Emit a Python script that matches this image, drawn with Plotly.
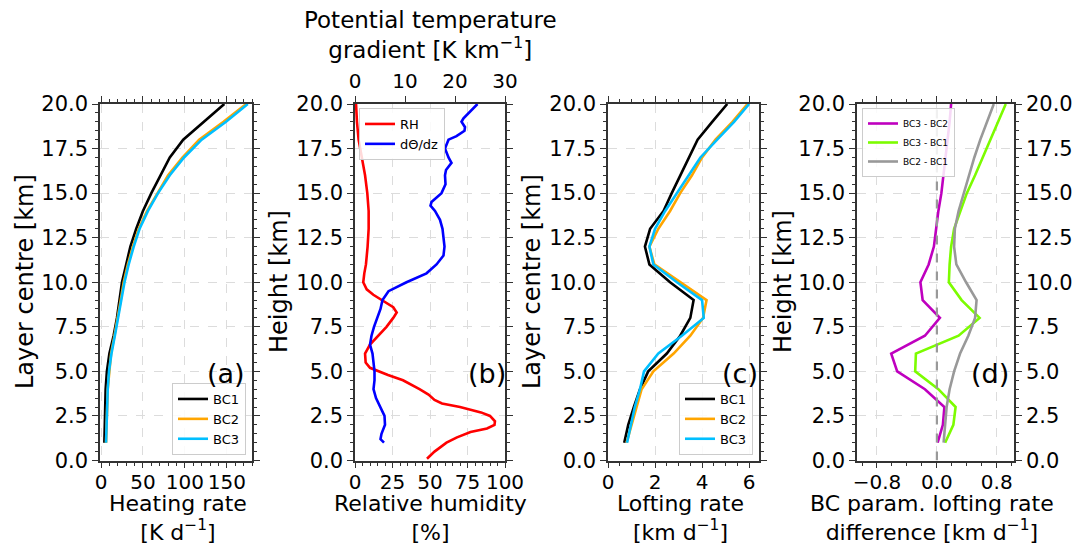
import plotly.graph_objects as go

W, H = 1074, 547

# ---------------- data ----------------
layer_km = list(range(1, 21))

heat_bc1 = [4, 4.5, 5, 5.5, 7, 10, 15, 19, 22, 25, 30, 35, 42, 50, 60, 71, 82, 98, 122, 147]
heat_bc2 = [6, 6.5, 7, 8, 10, 12, 16, 20, 23.5, 27, 32, 38, 45, 55, 67, 80, 97, 117, 146, 173]
heat_bc3 = [6, 6.5, 7, 8, 9.5, 12.5, 16.5, 20.5, 24, 28, 33, 39, 46, 56, 68, 82, 99, 120, 149, 175]

rh_height = [0.1, 0.5, 1.0, 1.3, 1.6, 1.8, 2.0, 2.2, 2.5, 2.7, 3.0, 3.2, 3.4, 3.7, 4.0, 4.5, 4.8,
             5.0, 5.2, 5.5, 6.0, 6.5, 7.0, 7.5, 8.0, 8.3, 8.6, 9.0, 9.3, 9.6, 10.0, 10.5, 11, 12,
             13, 14, 15, 16, 17, 18, 19, 20]
rh = [48, 53, 61, 68, 77, 88, 93, 93.3, 90, 84, 70, 58, 53, 49, 43, 32, 22,
      15.5, 10, 7.1, 6.7, 10, 15.5, 21, 25.5, 27.8, 25.5, 17.8, 12.2, 7.8, 5.5, 6.2, 7.3, 8.4,
      9.1, 9.1, 8.2, 6.7, 4.4, 2.4, 1.3, 0.7]

dth_height = [1.0, 1.2, 1.5, 2.0, 2.5, 3.0, 3.5, 4.0, 4.5, 5.0, 5.5, 6.0, 6.5, 7.0, 7.5, 8.0,
              8.5, 9.0, 9.5, 10.0, 10.5, 11.0, 11.5, 12.0, 12.5, 13.0, 13.5, 14.0, 14.3, 14.5,
              15.0, 15.5, 16.0, 16.3, 16.7, 17.0, 17.5, 18.0, 18.2, 18.5, 18.7, 19.0, 19.2,
              19.5, 20.0]
dth_dz = [5.8, 5.1, 5.3, 6.0, 5.9, 5.0, 4.2, 3.7, 3.9, 3.9, 3.7, 3.5, 3.0, 3.3, 3.8, 4.5,
          5.1, 5.5, 6.7, 10.3, 14.3, 16.3, 17.7, 17.9, 17.7, 17.5, 17.0, 16.0, 15.1, 15.3,
          17.3, 18.1, 18.0, 18.2, 19.3, 18.7, 18.0, 18.7, 20.3, 21.9, 22.0, 21.3, 21.7,
          22.7, 24.5]

loft_bc1 = [0.69, 0.86, 1.1, 1.36, 1.71, 2.5, 3.07, 3.5, 3.64, 2.64, 1.76, 1.57, 1.79, 2.36,
            2.71, 3.07, 3.43, 3.81, 4.43, 5.07]
loft_bc2 = [0.79, 1.0, 1.21, 1.43, 1.93, 2.79, 3.5, 4.04, 4.19, 3.07, 1.97, 1.76, 2.14, 2.64,
            3.07, 3.57, 4.0, 4.57, 5.29, 5.93]
loft_bc3 = [0.81, 0.96, 1.14, 1.36, 1.53, 2.14, 3.14, 4.07, 4.0, 2.93, 1.93, 1.76, 2.0, 2.43,
            2.93, 3.43, 3.93, 4.64, 5.36, 6.0]

diff_32 = [0.01, 0.08, 0.10, -0.16, -0.53, -0.61, -0.16, 0.04, -0.19, -0.22, -0.11, -0.04,
           -0.01, 0.02, 0.06, 0.09, 0.12, 0.15, 0.17, 0.19]
diff_31 = [0.11, 0.22, 0.25, 0.02, -0.29, -0.28, 0.29, 0.57, 0.33, 0.16, 0.17, 0.19, 0.23,
           0.31, 0.40, 0.51, 0.61, 0.71, 0.82, 0.92]
diff_21 = [0.09, 0.11, 0.13, 0.17, 0.23, 0.31, 0.42, 0.51, 0.53, 0.39, 0.26, 0.23, 0.24,
           0.29, 0.36, 0.42, 0.50, 0.58, 0.67, 0.76]

zero_x = [0, 0]
zero_y = [0, 20]

y_ticks = [0, 2.5, 5, 7.5, 10, 12.5, 15, 17.5, 20]

# ---------------- styling ----------------
FONT = "DejaVu Sans"
AX = "#333333"
GRID = "#dcdcdc"
LW = 2.6
YTICK_SIZE = 21
XTICK_SIZE = 20
TITLE_SIZE = 22

def px_x(p):
    return p / W

def px_y(p):
    return (H - p) / H

Y0, Y1 = px_y(460.5), px_y(104)

fig = go.Figure()

# (a)
fig.add_trace(go.Scatter(x=heat_bc1, y=layer_km, name="BC1", mode="lines",
                         line=dict(color="black", width=LW), xaxis="x", yaxis="y", legend="legend"))
fig.add_trace(go.Scatter(x=heat_bc2, y=layer_km, name="BC2", mode="lines",
                         line=dict(color="#FFA500", width=LW), xaxis="x", yaxis="y", legend="legend"))
fig.add_trace(go.Scatter(x=heat_bc3, y=layer_km, name="BC3", mode="lines",
                         line=dict(color="#00BFFF", width=LW), xaxis="x", yaxis="y", legend="legend"))
# (b)
fig.add_trace(go.Scatter(x=rh, y=rh_height, name="RH", mode="lines",
                         line=dict(color="#FF0000", width=LW), xaxis="x2", yaxis="y2", legend="legend2"))
fig.add_trace(go.Scatter(x=dth_dz, y=dth_height, name="dΘ/dz", mode="lines",
                         line=dict(color="#0000FF", width=LW), xaxis="x5", yaxis="y2", legend="legend2"))
# (c)
fig.add_trace(go.Scatter(x=loft_bc1, y=layer_km, name="BC1", mode="lines",
                         line=dict(color="black", width=LW), xaxis="x3", yaxis="y3", legend="legend3"))
fig.add_trace(go.Scatter(x=loft_bc2, y=layer_km, name="BC2", mode="lines",
                         line=dict(color="#FFA500", width=LW), xaxis="x3", yaxis="y3", legend="legend3"))
fig.add_trace(go.Scatter(x=loft_bc3, y=layer_km, name="BC3", mode="lines",
                         line=dict(color="#00BFFF", width=LW), xaxis="x3", yaxis="y3", legend="legend3"))
# (d)
fig.add_trace(go.Scatter(x=zero_x, y=zero_y, mode="lines", showlegend=False, hoverinfo="skip",
                         line=dict(color="#999999", width=2.2, dash="dash"), xaxis="x4", yaxis="y5"))
fig.add_trace(go.Scatter(x=diff_32, y=layer_km, name="BC3 - BC2", mode="lines",
                         line=dict(color="#BF00BF", width=LW), xaxis="x4", yaxis="y4", legend="legend4"))
fig.add_trace(go.Scatter(x=diff_31, y=layer_km, name="BC3 - BC1", mode="lines",
                         line=dict(color="#7CFC00", width=LW), xaxis="x4", yaxis="y4", legend="legend4"))
fig.add_trace(go.Scatter(x=diff_21, y=layer_km, name="BC2 - BC1", mode="lines",
                         line=dict(color="#999999", width=LW), xaxis="x4", yaxis="y4", legend="legend4"))


def xax(dom, rng, tickvals, ticktext, minor_dtick, anchor, side="bottom", mirror="ticks",
        grid=True, minor=True, overlaying=None, standoff=-3):
    d = dict(domain=[px_x(dom[0]), px_x(dom[1])], range=rng, anchor=anchor, side=side,
             automargin=False,
             tickmode="array", tickvals=tickvals, ticktext=ticktext,
             ticks="outside", ticklen=6, tickwidth=1.3, tickcolor=AX,
             ticklabelstandoff=standoff,
             showline=True, linecolor=AX, linewidth=1.5, mirror=mirror,
             showgrid=grid, gridcolor=GRID, griddash="dash", gridwidth=1,
             zeroline=False, tickfont=dict(size=XTICK_SIZE, family=FONT, color="black"),
             fixedrange=True)
    if minor:
        d["minor"] = dict(dtick=minor_dtick, tick0=0, ticks="outside", ticklen=3.5,
                          tickcolor=AX, tickwidth=1, showgrid=False)
    if overlaying:
        d["overlaying"] = overlaying
    return d


def yax(anchor, side="left", mirror="ticks", overlaying=None):
    d = dict(domain=[Y0, Y1], range=[0, 20], anchor=anchor, side=side,
             automargin=False,
             tickmode="array", tickvals=y_ticks, ticktext=[f"{v:.1f}" for v in y_ticks],
             ticks="outside", ticklen=6, tickwidth=1.3, tickcolor=AX,
             showline=True, linecolor=AX, linewidth=1.5, mirror=mirror,
             showgrid=True, gridcolor=GRID, griddash="dash", gridwidth=1,
             zeroline=False, tickfont=dict(size=YTICK_SIZE, family=FONT, color="black"),
             minor=dict(dtick=0.5, tick0=0, ticks="outside", ticklen=3.5, tickcolor=AX,
                        tickwidth=1, showgrid=False),
             fixedrange=True)
    if overlaying:
        d["overlaying"] = overlaying
    return d


legend_common = dict(bgcolor="rgba(255,255,255,0.85)", bordercolor="#cccccc", borderwidth=1,
                     itemwidth=30)

layout = dict(
    width=W, height=H,
    margin=dict(l=0, r=0, t=0, b=0, autoexpand=False),
    paper_bgcolor="white", plot_bgcolor="white",
    font=dict(family=FONT, color="black"),
    xaxis=xax((100, 252), [-1.2, 180], [0, 50, 100, 150], ["0", "50", "100", "150"], 10, "y"),
    yaxis=yax("x"),
    xaxis2=xax((355, 505), [0, 100], [0, 25, 50, 75, 100], ["0", "25", "50", "75", "100"], 5,
               "y2", mirror=False),
    xaxis5=xax((355, 505), [0, 30], [0, 10, 20, 30], ["0", "10", "20", "30"], 2,
               "y2", side="top", mirror=False, grid=False, minor=False, overlaying="x2",
               standoff=0),
    yaxis2=yax("x2"),
    xaxis3=xax((608, 759), [0, 6.42], [0, 2, 4, 6], ["0", "2", "4", "6"], 0.5, "y3"),
    yaxis3=yax("x3"),
    xaxis4=xax((857, 1014), [-1.067, 1.03], [-0.8, 0, 0.8], ["−0.8", "0.0", "0.8"], 0.2, "y4"),
    yaxis4=yax("x4", mirror=False),
    yaxis5=yax("x4", side="right", mirror=False, overlaying="y4"),
    legend=dict(x=px_x(246), y=px_y(455), xanchor="right", yanchor="bottom",
                font=dict(size=13, family=FONT), **legend_common),
    legend2=dict(x=px_x(359), y=px_y(108), xanchor="left", yanchor="top",
                 font=dict(size=13, family=FONT), **legend_common),
    legend3=dict(x=px_x(753), y=px_y(455), xanchor="right", yanchor="bottom",
                 font=dict(size=13, family=FONT), **legend_common),
    legend4=dict(x=px_x(862), y=px_y(108), xanchor="left", yanchor="top",
                 font=dict(size=9, family=FONT), **legend_common),
    showlegend=True,
)
fig.update_layout(**layout)


def note(text, xc, yc, size, angle=0):
    fig.add_annotation(text=text, x=px_x(xc), y=px_y(yc), xref="paper", yref="paper",
                       showarrow=False, xanchor="center", yanchor="middle", textangle=angle,
                       font=dict(size=size, family=FONT, color="black"))


# axis titles (two-line, each drawn as one text block)
x_titles = [
    ("Heating rate<br>[K d<sup>−1</sup>]", 178),
    ("Relative humidity<br>[%]", 430),
    ("Lofting rate<br>[km d<sup>−1</sup>]", 680),
    ("BC param. lofting rate<br>difference [km d<sup>−1</sup>]", 932),
]
for txt, xc in x_titles:
    note(txt, xc, 518, TITLE_SIZE)

note("Potential temperature<br>gradient [K km<sup>−1</sup>]", 430, 35, 23)

for txt, xc in [("Layer centre [km]", 25), ("Height [km]", 279),
                ("Layer centre [km]", 532), ("Height [km]", 783)]:
    note(txt, xc, 282, TITLE_SIZE + 2, angle=-90)

for lbl, xc in [("(a)", 226), ("(b)", 487), ("(c)", 740), ("(d)", 990)]:
    note(lbl, xc, 373, 27)

fig.write_html("out.html", post_script="document.body.style.margin='0';")
